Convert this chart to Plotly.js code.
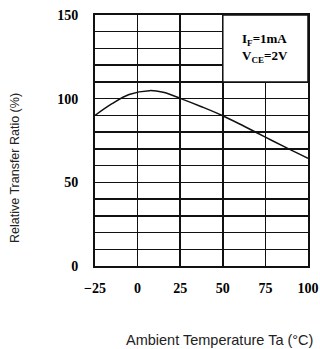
<!DOCTYPE html>
<html><head><meta charset="utf-8">
<script src="https://cdn.plot.ly/plotly-3.0.1.min.js"></script>
<style>html,body{margin:0;padding:0;background:#fff}#c{width:320px;height:349px}</style>
</head><body><div id="c"></div>
<script>
const temperature = [-25, -15, -5, 7, 15, 25, 37.5, 50, 62.5, 75, 87.5, 100];
const relativeCTR = [90, 97, 102.5, 104.8, 103.8, 100.2, 95.2, 89.8, 83.5, 77, 70.6, 64.4];
const xTicks = [-25, 0, 25, 50, 75, 100];
const yTicks = [0, 50, 100, 150];
const noteLines = ['I<sub>F</sub>=1mA', 'V<sub>CE</sub>=2V'];
const xTitle = 'Ambient Temperature Ta (°C)';
const yTitle = 'Relative Transfer Ratio (%)';

const tickFont = {family: 'Liberation Serif', size: 14, color: '#000', weight: 'bold'};

const layout = {
  width: 320, height: 349,
  margin: {l: 95, r: 12, t: 15, b: 83},
  paper_bgcolor: '#fff', plot_bgcolor: '#fff',
  showlegend: false,
  xaxis: {
    range: [-25, 100], tickvals: xTicks, ticktext: xTicks.map(v => v < 0 ? '\u2212' + Math.abs(v) : String(v)),
    showgrid: true, gridcolor: '#111', gridwidth: 1.5, zeroline: false,
    showline: true, linecolor: '#111', linewidth: 2, mirror: true,
    ticks: '', tickfont: tickFont, ticklabelstandoff: 8
  },
  yaxis: {
    range: [0, 150], tickvals: yTicks,
    showgrid: true, gridcolor: '#111', gridwidth: 1.5, zeroline: false,
    minor: {dtick: 10, tick0: 0, showgrid: true, gridcolor: '#111', gridwidth: 1.5, ticks: ''},
    showline: true, linecolor: '#111', linewidth: 2, mirror: true,
    ticks: '', tickfont: tickFont, ticklabelstandoff: 12
  },
  shapes: [{
    type: 'rect', xref: 'x', yref: 'y', x0: 50, x1: 100, y0: 110, y1: 150,
    fillcolor: '#fff', line: {color: '#111', width: 1.5}, layer: 'above'
  }],
  annotations: [{
    xref: 'x', yref: 'y', x: 75, y: 130, showarrow: false,
    text: noteLines.join('<br>'), align: 'left',
    font: {family: 'Liberation Serif', size: 13, color: '#000', weight: 'bold'}
  }, {
    xref: 'paper', yref: 'paper', x: (219.5 - 95) / 213, y: -(340 - 266) / 251,
    xanchor: 'center', yanchor: 'middle', showarrow: false, text: xTitle,
    font: {family: 'Liberation Sans', size: 14.5, color: '#222'}
  }, {
    xref: 'paper', yref: 'paper', x: -(95 - 15) / 213, y: (266 - 168) / 251,
    xanchor: 'center', yanchor: 'middle', showarrow: false, text: yTitle, textangle: -90,
    font: {family: 'Liberation Sans', size: 12.5, color: '#222'}
  }]
};

Plotly.newPlot('c', [{
  x: temperature, y: relativeCTR, type: 'scatter', mode: 'lines',
  line: {color: '#111', width: 1.5, shape: 'spline', smoothing: 1}
}], layout, {displayModeBar: false, staticPlot: true});
</script></body></html>
